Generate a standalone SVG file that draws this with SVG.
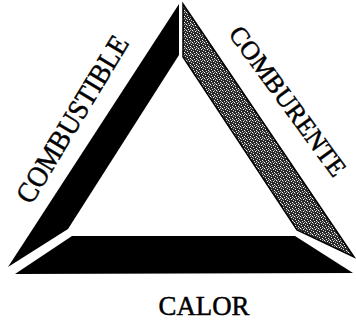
<svg xmlns="http://www.w3.org/2000/svg" width="356" height="324" viewBox="0 0 356 324">
  <style>
    .bar { fill: #000; }
    .gray { fill: url(#stipple); stroke: #000; stroke-width: 1.5; stroke-linejoin: miter; }
    .lbl { font-family: "Liberation Serif", "Times New Roman", serif; font-size: 27px; fill: #000; stroke: #000; stroke-width: 0.5; text-anchor: middle; }
    .rot { font-size: 29px; }
    .rot2 { font-size: 26px; }
  </style>
  <defs>
    <pattern id="stipple" width="6" height="6" patternUnits="userSpaceOnUse">
      <rect width="6" height="6" fill="#2a2a2a"/>
      <rect x="0" y="0" width="1" height="1" fill="#fff"/>
      <rect x="3" y="1" width="1" height="1" fill="#fff"/>
      <rect x="1" y="3" width="1" height="1" fill="#eee"/>
      <rect x="4" y="4" width="1" height="1" fill="#fff"/>
      <rect x="5" y="2" width="1" height="1" fill="#ccc"/>
      <rect x="2" y="5" width="1" height="1" fill="#ddd"/>
      <rect x="4" y="0" width="1" height="1" fill="#aaa"/>
      <rect x="1" y="1" width="1" height="1" fill="#888"/>
      <rect x="5" y="5" width="1" height="1" fill="#999"/>
    </pattern>
  </defs>
  <rect width="356" height="324" fill="#fff"/>
  <g id="connectors"></g>
  <g id="combustible">
    <polygon class="bar" points="179,4 179,55 68,229 8,267"/>
    <text class="lbl rot" transform="translate(72,119) rotate(-58.8)" y="10" textLength="190" lengthAdjust="spacingAndGlyphs">COMBUSTIBLE</text>
  </g>
  <g id="comburente">
    <polygon class="gray" points="183,4 354,257 297,230 183,57"/>
    <text class="lbl rot2" transform="translate(288,101) rotate(53.8)" y="9">COMBURENTE</text>
  </g>
  <g id="calor">
    <polygon class="bar" points="72,236 295,236 353,273 15,274"/>
    <text class="lbl" x="204" y="315" textLength="91" lengthAdjust="spacingAndGlyphs">CALOR</text>
  </g>
</svg>
